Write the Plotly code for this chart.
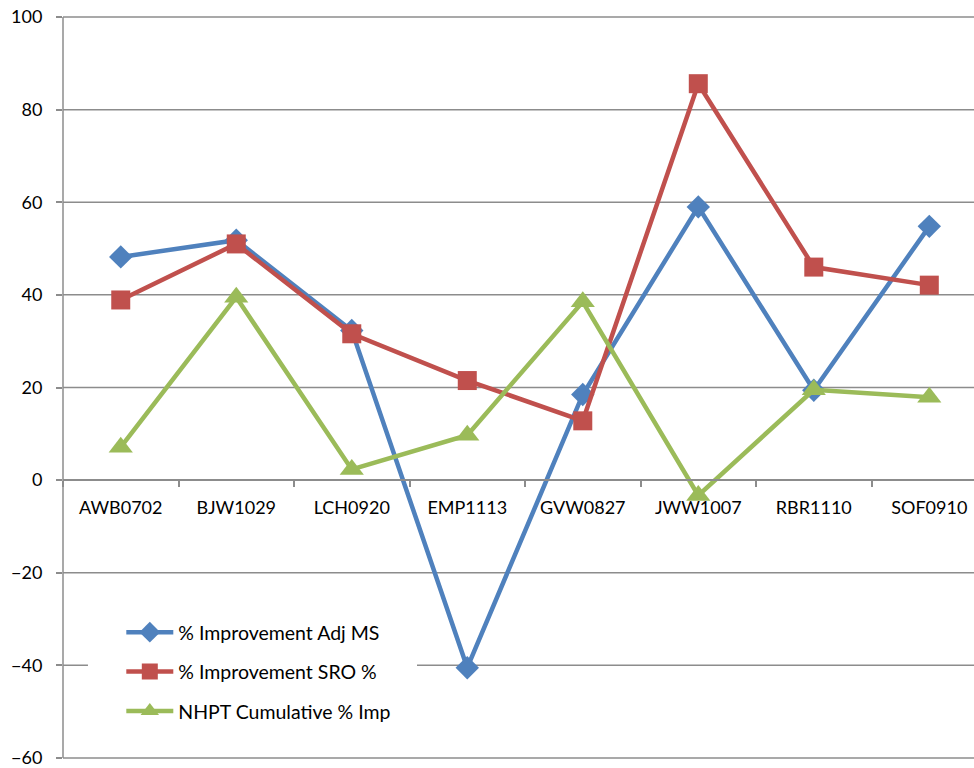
import plotly.graph_objects as go

# Subjects on the category axis
subjects = ["AWB0702", "BJW1029", "LCH0920", "EMP1113",
            "GVW0827", "JWW1007", "RBR1110", "SOF0910"]

# Percentage improvement per subject
adj_ms = [48.2, 51.8, 32.3, -40.5, 18.5, 59.0, 19.4, 54.8]
sro = [38.9, 51.0, 31.6, 21.5, 12.8, 85.6, 46.0, 42.1]
nhpt = [7.1, 39.5, 2.3, 9.7, 38.5, -3.3, 19.5, 17.9]

y_ticks = [-60, -40, -20, 0, 20, 40, 60, 80, 100]
y_min, y_max = -60, 100

GRID = "#8c8c8c"
FONT = "Lato, 'Open Sans', Arial, sans-serif"

# small padding beyond the outer gridlines so both edge ticks render
Y_LO, Y_HI = -61.08, 100.432
zero_frac = (0 - Y_LO) / (Y_HI - Y_LO)

series = [
    ("% Improvement Adj MS", adj_ms, "#4F81BD", "diamond", 18),
    ("% Improvement SRO %", sro, "#C0504D", "square", 19),
    ("NHPT Cumulative % Imp", nhpt, "#9BBB59", "triangle-up", 21),
]

fig = go.Figure()
for i, (name, vals, color, symbol, size) in enumerate(series):
    fig.add_trace(go.Scatter(
        x=subjects, y=vals, name=name, mode="lines+markers",
        line=dict(color=color, width=4.5),
        marker=dict(symbol=symbol, size=size, color=color,
                    line=dict(width=0)),
        legendgroup=f"g{i}",
    ))

# horizontal gridlines at every value tick
for v in y_ticks:
    fig.add_shape(
        type="line", xref="paper", yref="y",
        x0=0, x1=1, y0=v, y1=v,
        line=dict(color=GRID, width=1.5), layer="below",
    )
# value axis line spanning the gridded range
fig.add_shape(
    type="line", xref="paper", yref="y",
    x0=0, x1=0, y0=y_min, y1=y_max,
    line=dict(color=GRID, width=1.5), layer="below",
)
# white panel behind the legend, hiding the gridline there
fig.add_shape(
    type="rect", xref="paper", yref="paper",
    x0=0.0274, x1=0.3886, y0=0.041, y1=0.202,
    fillcolor="white", line=dict(width=0), layer="between",
)

fig.update_layout(
    width=974, height=768,
    margin=dict(l=63, r=0, t=15, b=5),
    paper_bgcolor="white", plot_bgcolor="white",
    font=dict(family=FONT, size=18, color="black"),
    showlegend=True,
    legend=dict(
        x=0.064, y=0.2005, xanchor="left", yanchor="top",
        bgcolor="rgba(0,0,0,0)", borderwidth=0,
        font=dict(family=FONT, size=19.5, color="black"),
        tracegroupgap=11, itemwidth=47,
    ),
    xaxis=dict(
        type="category", categoryorder="array", categoryarray=subjects,
        range=[-0.5, 7.387],
        anchor="free", position=zero_frac,
        showline=True, linecolor=GRID, linewidth=1.5,
        showgrid=False, zeroline=False,
        ticks="outside", tickson="boundaries", ticklen=6,
        tickcolor=GRID, tickwidth=1.5,
        tickfont=dict(family=FONT, size=18, color="black"),
        ticklabelstandoff=12,
    ),
    yaxis=dict(
        range=[Y_LO, Y_HI], tickvals=y_ticks,
        showline=False, showgrid=False, zeroline=False,
        ticks="outside", ticklen=6, tickcolor=GRID, tickwidth=1.5,
        tickfont=dict(family=FONT, size=18, color="black"),
        ticklabelstandoff=10, ticklabeloverflow="allow",
    ),
)

fig.write_html("out.html")
